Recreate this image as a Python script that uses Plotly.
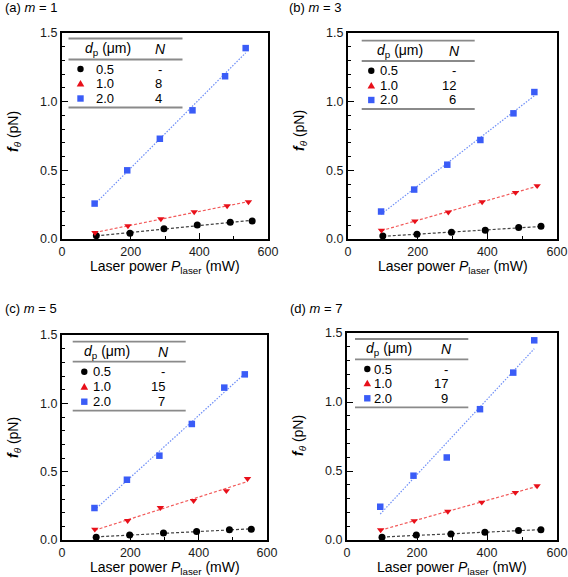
import numpy as np
import plotly.graph_objects as go

W, H = 568, 577
FONT = "Liberation Sans, Arial, sans-serif"

# ---------------- data ----------------
x_black = [100, 198, 297, 394, 490, 554]
x_red = [96, 192, 288, 385, 481, 543]
x_blue = [95, 190, 285, 380, 475, 535]

black_a = [0.024, 0.041, 0.075, 0.102, 0.122, 0.131]
red_a = [0.046, 0.095, 0.146, 0.197, 0.241, 0.270]
blue_a = [0.258, 0.500, 0.730, 0.937, 1.185, 1.390]

black_b = [0.022, 0.034, 0.049, 0.063, 0.083, 0.092]
red_b = [0.063, 0.131, 0.195, 0.270, 0.338, 0.387]
blue_b = [0.200, 0.360, 0.541, 0.721, 0.915, 1.070]

black_c = [0.020, 0.037, 0.051, 0.063, 0.075, 0.078]
red_c = [0.078, 0.141, 0.236, 0.288, 0.360, 0.449]
blue_c = [0.234, 0.441, 0.617, 0.849, 1.115, 1.212]

black_d = [0.020, 0.036, 0.044, 0.056, 0.068, 0.075]
red_d = [0.073, 0.139, 0.207, 0.273, 0.344, 0.392]
blue_d = [0.241, 0.466, 0.598, 0.948, 1.213, 1.447]

panel_labels = ["(a)", "(b)", "(c)", "(d)"]
m_values = [1, 3, 5, 7]
diameters = ["0.5", "1.0", "2.0"]
N_a = ["-", "8", "4"]
N_b = ["-", "12", "6"]
N_c = ["-", "15", "7"]
N_d = ["-", "17", "9"]

x_ticks = [0, 200, 400, 600]
y_ticks = [0.0, 0.5, 1.0, 1.5]

# ---------------- style ----------------
C_BLACK, C_RED, C_BLUE = "#000000", "#e8101a", "#3a5cf7"
L_BLACK, L_RED, L_BLUE = "#444444", "#f25a5a", "#6f8ff7"

series = [
    (x_black, [black_a, black_b, black_c, black_d], C_BLACK, L_BLACK, "circle", 7, "3px,2px"),
    (x_red, [red_a, red_b, red_c, red_d], C_RED, L_RED, "triangle-down", 6.5, "3px,2px"),
    (x_blue, [blue_a, blue_b, blue_c, blue_d], C_BLUE, L_BLUE, "square", 6.5, "1.5px,1.5px"),
]
N_all = [N_a, N_b, N_c, N_d]

# plot area in pixels: left, right, top, bottom
geom = [(62, 268, 33, 239), (348, 557, 33, 239), (62, 267, 335, 540), (347, 557, 333, 540)]
ytitle_cy = [131, 131, 437, 436]
title_pos = [(3, 7.5), (287, 7.5), (3, 308.5), (288, 308.5)]
# table geometry (px)
tables = [
    dict(x0=68.5, x1=182.5, lines=[38.5, 59.5, 107.5], hy=49.5, rows=[69, 83.5, 98.5],
         mx=80.5, vx=104.5, hx=107.5, nx=160),
    dict(x0=361.7, x1=474.7, lines=[40.7, 61, 109], hy=51, rows=[70.7, 85.5, 100],
         mx=371.3, vx=389, hx=400, nx=454),
    dict(x0=72.7, x1=185.7, lines=[341.7, 361.7, 410.7], hy=351.5, rows=[371.7, 386.7, 401.7],
         mx=84.3, vx=101.7, hx=106.7, nx=163.3),
    dict(x0=355, x1=468.3, lines=[339, 359.3, 407.3], hy=349, rows=[369, 383.3, 398.3],
         mx=367.3, vx=383.3, hx=389, nx=446.3),
]

TXT = 13


def px(x):
    return x / W


def py(y):
    return 1 - y / H


fig = go.Figure()
shapes = []
annotations = []

for i in range(4):
    xa = "x" if i == 0 else f"x{i+1}"
    ya = "y" if i == 0 else f"y{i+1}"
    # fit lines first
    for xs, ys_list, mc, lc, sym, size, dash in series:
        ys = ys_list[i]
        k, b = np.polyfit(xs, ys, 1)
        xl = np.array([xs[0], xs[-1]], dtype=float)
        fig.add_trace(go.Scatter(x=xl, y=k * xl + b, mode="lines", xaxis=xa, yaxis=ya,
                                 line=dict(color=lc, width=1.2, dash=dash),
                                 showlegend=False, hoverinfo="skip"))
    for xs, ys_list, mc, lc, sym, size, dash in series:
        fig.add_trace(go.Scatter(x=xs, y=ys_list[i], mode="markers", xaxis=xa, yaxis=ya,
                                 marker=dict(symbol=sym, size=size, color=mc, line=dict(width=0)),
                                 showlegend=False))

    L, R, T, B = geom[i]
    axis_common = dict(showline=True, linewidth=2, linecolor="black", mirror=True,
                       ticks="inside", ticklen=6, tickwidth=1.3, tickcolor="black",
                       showgrid=False, zeroline=False, automargin=False,
                       tickfont=dict(family=FONT, size=12.5, color="#1a1a1a"))
    fig.update_layout(**{
        ("xaxis" if i == 0 else f"xaxis{i+1}"): dict(
            domain=[px(L), px(R)], range=[0, 600], anchor=ya,
            tickvals=x_ticks, ticktext=[str(v) for v in x_ticks],
            minor=dict(ticks="inside", ticklen=3, tickwidth=1, tickcolor="black", dtick=100, tick0=0),
            **axis_common),
        ("yaxis" if i == 0 else f"yaxis{i+1}"): dict(
            domain=[py(B), py(T)], range=[0, 1.5], anchor=xa,
            tickvals=y_ticks, ticktext=[f"{v:.1f}" for v in y_ticks],
            minor=dict(ticks="inside", ticklen=3, tickwidth=1, tickcolor="black", dtick=0.1, tick0=0),
            **axis_common),
    })

    # panel title
    tx, ty = title_pos[i]
    annotations.append(dict(x=px(tx), y=py(ty), xref="paper", yref="paper", xanchor="left",
                            yanchor="middle", showarrow=False,
                            text=f"{panel_labels[i]} <i>m</i> = {m_values[i]}",
                            font=dict(family=FONT, size=13, color="black")))
    # axis titles
    annotations.append(dict(x=px((L + R) / 2), y=py(B + 28), xref="paper", yref="paper",
                            xanchor="center", yanchor="middle", showarrow=False,
                            text="Laser power <i>P</i><sub>laser</sub> (mW)",
                            font=dict(family=FONT, size=14, color="black")))
    annotations.append(dict(x=px(L - 48), y=py(ytitle_cy[i]), xref="paper", yref="paper",
                            xanchor="center", yanchor="middle", showarrow=False, textangle=-90,
                            text="<b><i>f</i></b><sub><i>θ</i></sub> (pN)",
                            font=dict(family=FONT, size=14, color="black")))

    # table
    t = tables[i]
    for yl in t["lines"]:
        shapes.append(dict(type="line", xref="paper", yref="paper", x0=px(t["x0"]), x1=px(t["x1"]),
                           y0=py(yl), y1=py(yl), line=dict(color="#8a8a8a", width=1.8)))
    annotations.append(dict(x=px(t["hx"]), y=py(t["hy"]), xref="paper", yref="paper",
                            xanchor="center", yanchor="middle", showarrow=False,
                            text="<i>d</i><sub>p</sub> (μm)",
                            font=dict(family=FONT, size=14, color="black")))
    annotations.append(dict(x=px(t["nx"]), y=py(t["hy"]), xref="paper", yref="paper",
                            xanchor="center", yanchor="middle", showarrow=False,
                            text="<i>N</i>", font=dict(family=FONT, size=14, color="black")))
    for r, yr in enumerate(t["rows"]):
        annotations.append(dict(x=px(t["vx"]), y=py(yr), xref="paper", yref="paper",
                                xanchor="center", yanchor="middle", showarrow=False,
                                text=diameters[r], font=dict(family=FONT, size=TXT, color="black")))
        nv = N_all[i][r]
        if nv == "-":
            annotations.append(dict(x=px(t["nx"]), y=py(yr), xref="paper", yref="paper",
                                    xanchor="center", yanchor="middle", showarrow=False,
                                    text=nv, font=dict(family=FONT, size=TXT, color="black")))
        else:
            annotations.append(dict(x=px(t["nx"] + 4), y=py(yr), xref="paper", yref="paper",
                                    xanchor="right", yanchor="middle", showarrow=False,
                                    text=nv, font=dict(family=FONT, size=TXT, color="black")))
        mx = t["mx"]
        s = 3.2
        if r == 0:
            shapes.append(dict(type="circle", xref="paper", yref="paper", x0=px(mx - s), x1=px(mx + s),
                               y0=py(yr + s), y1=py(yr - s), fillcolor=C_BLACK, line=dict(width=0)))
        elif r == 1:
            path = (f"M {px(mx - 3.8)},{py(yr + 3)} L {px(mx + 3.8)},{py(yr + 3)} "
                    f"L {px(mx)},{py(yr - 3.6)} Z")
            shapes.append(dict(type="path", xref="paper", yref="paper", path=path,
                               fillcolor=C_RED, line=dict(width=0)))
        else:
            shapes.append(dict(type="rect", xref="paper", yref="paper", x0=px(mx - 3.2), x1=px(mx + 3.2),
                               y0=py(yr + 3.2), y1=py(yr - 3.2), fillcolor=C_BLUE, line=dict(width=0)))

fig.update_layout(width=W, height=H, margin=dict(l=0, r=0, t=0, b=0, autoexpand=False),
                  paper_bgcolor="white", plot_bgcolor="white",
                  shapes=shapes, annotations=annotations, showlegend=False,
                  font=dict(family=FONT, color="black"))

fig.write_html("out.html", config={"displayModeBar": False},
               post_script="document.body.style.margin='0';document.body.style.overflow='hidden';")
